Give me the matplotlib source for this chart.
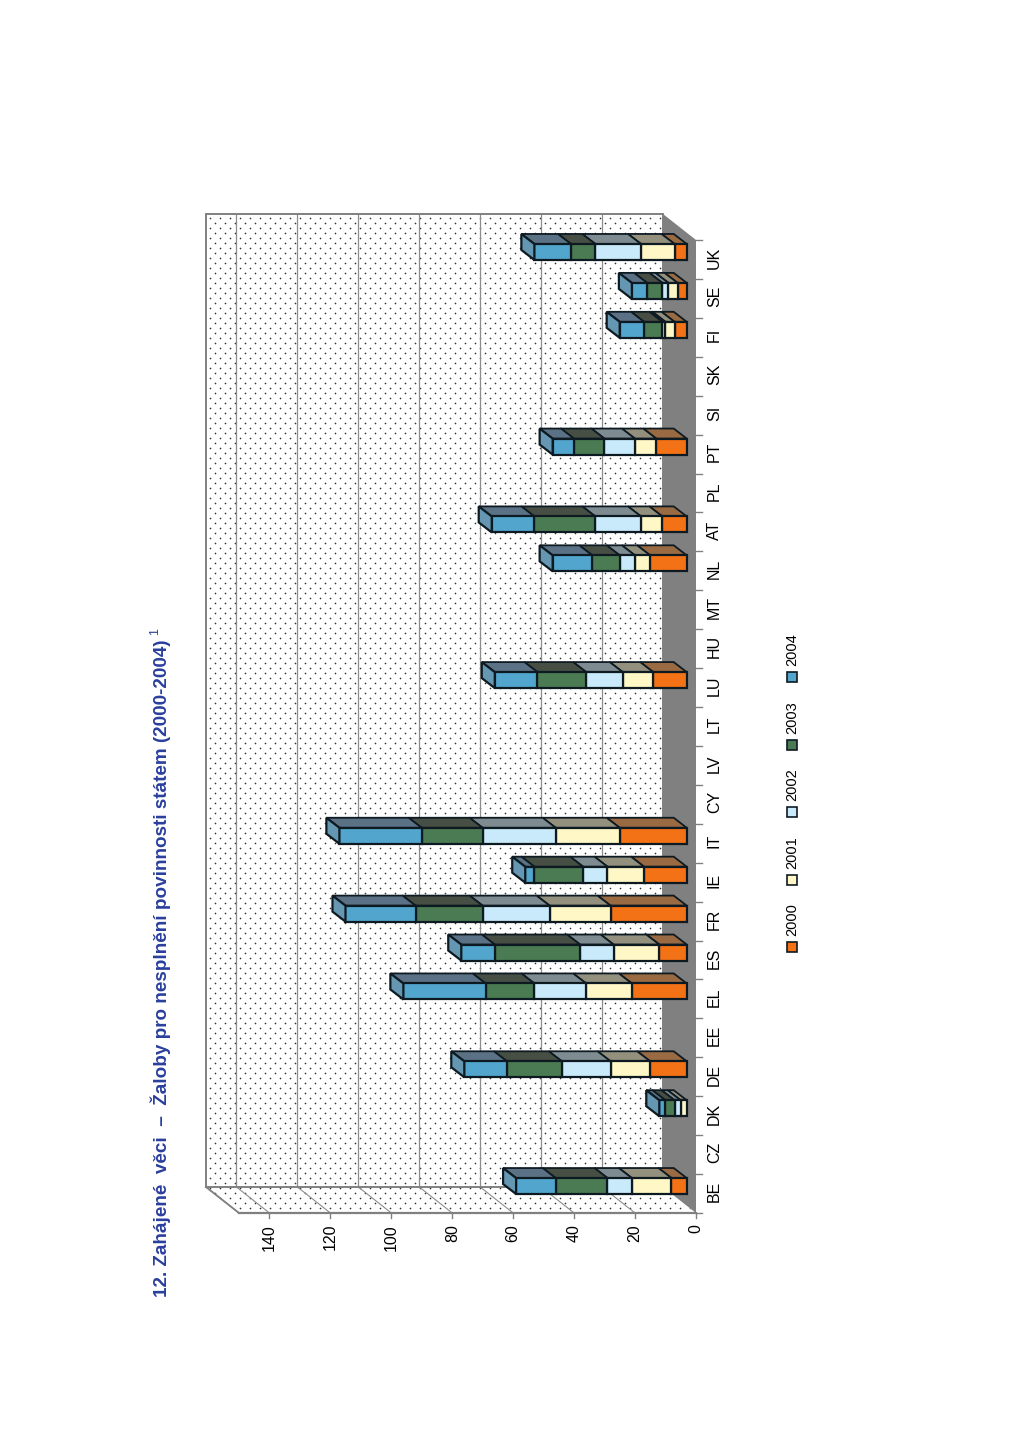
import numpy as np
import matplotlib
matplotlib.use('Agg')
import matplotlib.pyplot as plt
from matplotlib.patches import Polygon, Rectangle

plt.rcParams['font.family'] = ['Liberation Sans', 'DejaVu Sans']

countries = ['BE', 'CZ', 'DK', 'DE', 'EE', 'EL', 'ES', 'FR', 'IE', 'IT', 'CY', 'LV', 'LT', 'LU',
             'HU', 'MT', 'NL', 'AT', 'PL', 'PT', 'SI', 'SK', 'FI', 'SE', 'UK']
years = ['2000', '2001', '2002', '2003', '2004']
v2000 = [5, 0, 0, 12, 0, 18, 9, 25, 14, 22, 0, 0, 0, 11, 0, 0, 12, 8, 0, 10, 0, 0, 4, 3, 4]
v2001 = [13, 0, 2, 13, 0, 15, 15, 20, 12, 21, 0, 0, 0, 10, 0, 0, 5, 7, 0, 7, 0, 0, 3, 3, 11]
v2002 = [8, 0, 2, 16, 0, 17, 11, 22, 8, 24, 0, 0, 0, 12, 0, 0, 5, 15, 0, 10, 0, 0, 1, 2, 15]
v2003 = [17, 0, 3, 18, 0, 16, 28, 22, 16, 20, 0, 0, 0, 16, 0, 0, 9, 20, 0, 10, 0, 0, 6, 5, 8]
v2004 = [13, 0, 2, 14, 0, 27, 11, 23, 3, 27, 0, 0, 0, 14, 0, 0, 13, 14, 0, 7, 0, 0, 8, 5, 12]
series = [v2000, v2001, v2002, v2003, v2004]
value_ticks = [0, 20, 40, 60, 80, 100, 120, 140]
value_max = 150

front_colors = ['#F47216', '#FFF8C6', '#C9EAFA', '#4B7B52', '#52A6CE']
top_colors = ['#9A6A42', '#93917E', '#7E8B91', '#474F44', '#5B7185']
end_color = '#6597B2'
edge = '#0E1A22'
gray = '#808080'
grid = '#8C8C8C'

# page geometry of the sideways chart, in pixels
x_back0 = 663.0
y_back0 = 1187.0
px_per_unit = 457.0 / value_max
cat_h = 38.92
depth_x = 33.0
depth_y = 26.0
bar_h = 16.0
bar_x0 = 686.7
bar_dx = 13.0
bar_dy = 10.0


def page(value, cat, depth=0.0):
    # value axis runs up the page sideways, categories from bottom to top
    return (x_back0 - value * px_per_unit + depth * depth_x,
            y_back0 - cat * cat_h + depth * depth_y)


fig = plt.figure(figsize=(10.24, 14.49), dpi=100)
ax = fig.add_axes([0, 0, 1, 1])
ax.set_xlim(0, 1024)
ax.set_ylim(1449, 0)
ax.axis('off')

n = len(countries)
back_wall = [page(0, 0), page(value_max, 0), page(value_max, n), page(0, n)]
side_wall = [page(0, 0), page(value_max, 0), page(value_max, 0, 1), page(0, 0, 1)]
floor = [page(0, 0), page(0, n), page(0, n, 1), page(0, 0, 1)]

ax.add_patch(Polygon(back_wall, fc='white', ec='none', zorder=1))
ax.add_patch(Polygon(side_wall, fc='white', ec='none', zorder=1))

# dotted wall fill
gx, gy = np.meshgrid(np.arange(200, 705, 10.0), np.arange(208, 1218, 5.0))
gx = gx + 5 * (np.arange(gx.shape[0])[:, None] % 2)
for wall in (back_wall, side_wall):
    clip = Polygon(wall, fc='none', ec='none', transform=ax.transData)
    ax.add_patch(clip)
    dots = ax.scatter(gx.ravel(), gy.ravel(), s=1.4, c='#2E2E2E', marker='o', linewidths=0, zorder=2)
    dots.set_clip_path(clip)

for v in value_ticks + [150]:
    p0, p1, p2 = page(v, n), page(v, 0), page(v, 0, 1)
    if v not in (0, 150):
        ax.plot([p0[0], p1[0]], [p0[1], p1[1]], color=grid, lw=0.9, zorder=3)
    if v != 0:
        ax.plot([p1[0], p2[0]], [p1[1], p2[1]], color=grid, lw=0.8, zorder=3)

ax.add_patch(Polygon(floor, fc=gray, ec='none', zorder=3))
ax.add_patch(Polygon(back_wall, fc='none', ec=gray, lw=1.4, zorder=4))
ax.plot(*zip(page(value_max, 0, 1), page(0, 0, 1)), color=gray, lw=1.6, zorder=4)
ax.plot(*zip(page(value_max, 0), page(value_max, 0, 1)), color=gray, lw=1.3, zorder=4)

# stacked bars
for c in range(n):
    front_x, front_y = page(0, c + 0.5, 1)
    y_low = front_y - 7.5 + bar_h / 2
    y_high = y_low - bar_h
    left = 0
    vals = [s[c] for s in series]
    if sum(vals) == 0:
        continue
    x_end = bar_x0 - sum(vals) * px_per_unit
    for s, v in enumerate(vals):
        if v == 0:
            continue
        x1 = bar_x0 - left * px_per_unit
        x2 = bar_x0 - (left + v) * px_per_unit
        ax.add_patch(Polygon([(x1, y_high), (x2, y_high), (x2 - bar_dx, y_high - bar_dy), (x1 - bar_dx, y_high - bar_dy)],
                             fc=top_colors[s], ec=edge, lw=1.3, zorder=5))
        ax.add_patch(Polygon([(x1, y_high), (x2, y_high), (x2, y_low), (x1, y_low)],
                             fc=front_colors[s], ec=edge, lw=1.6, zorder=6))
        left += v
    ax.add_patch(Polygon([(x_end, y_high), (x_end - bar_dx, y_high - bar_dy),
                          (x_end - bar_dx, y_low - bar_dy), (x_end, y_low)],
                         fc=end_color, ec=edge, lw=1.6, zorder=6))

# axis ticks and labels
for v in value_ticks:
    x, y = page(v, 0, 1)
    ax.plot([x, x], [y, y + 5], color=gray, lw=1.0, zorder=4)
    ax.text(x, y + 11, str(v), rotation=90, ha='center', va='top', fontsize=11.5, color='black')

for c in range(n + 1):
    x, y = page(0, c, 1)
    ax.plot([x, x + 6], [y, y], color=gray, lw=1.0, zorder=4)
for c, name in enumerate(countries):
    x, y = page(0, c + 0.5, 1)
    ax.text(x + 18.5, y - 2, name, rotation=90, ha='center', va='center', fontsize=11.5, color='black')

# legend
legend_y = [947, 880, 812, 745, 677]
for s, year in enumerate(years):
    ax.add_patch(Rectangle((787, legend_y[s] - 5), 10, 10, fc=front_colors[s], ec=edge, lw=1.2, zorder=6))
    ax.text(792, legend_y[s] - 11, year, rotation=90, ha='center', va='bottom', fontsize=10.5, color='black')

# title
title_color = '#2A3F9D'
ax.text(161, 1297, '12. Zahájené  věci  –  Žaloby pro nesplnění povinnosti státem (2000-2004)',
        rotation=90, ha='center', va='bottom', fontsize=13.55, fontweight='bold', color=title_color)
ax.text(155, 635, '1', rotation=90, ha='center', va='bottom', fontsize=9, color=title_color)

fig.savefig('out.png', dpi=100)
